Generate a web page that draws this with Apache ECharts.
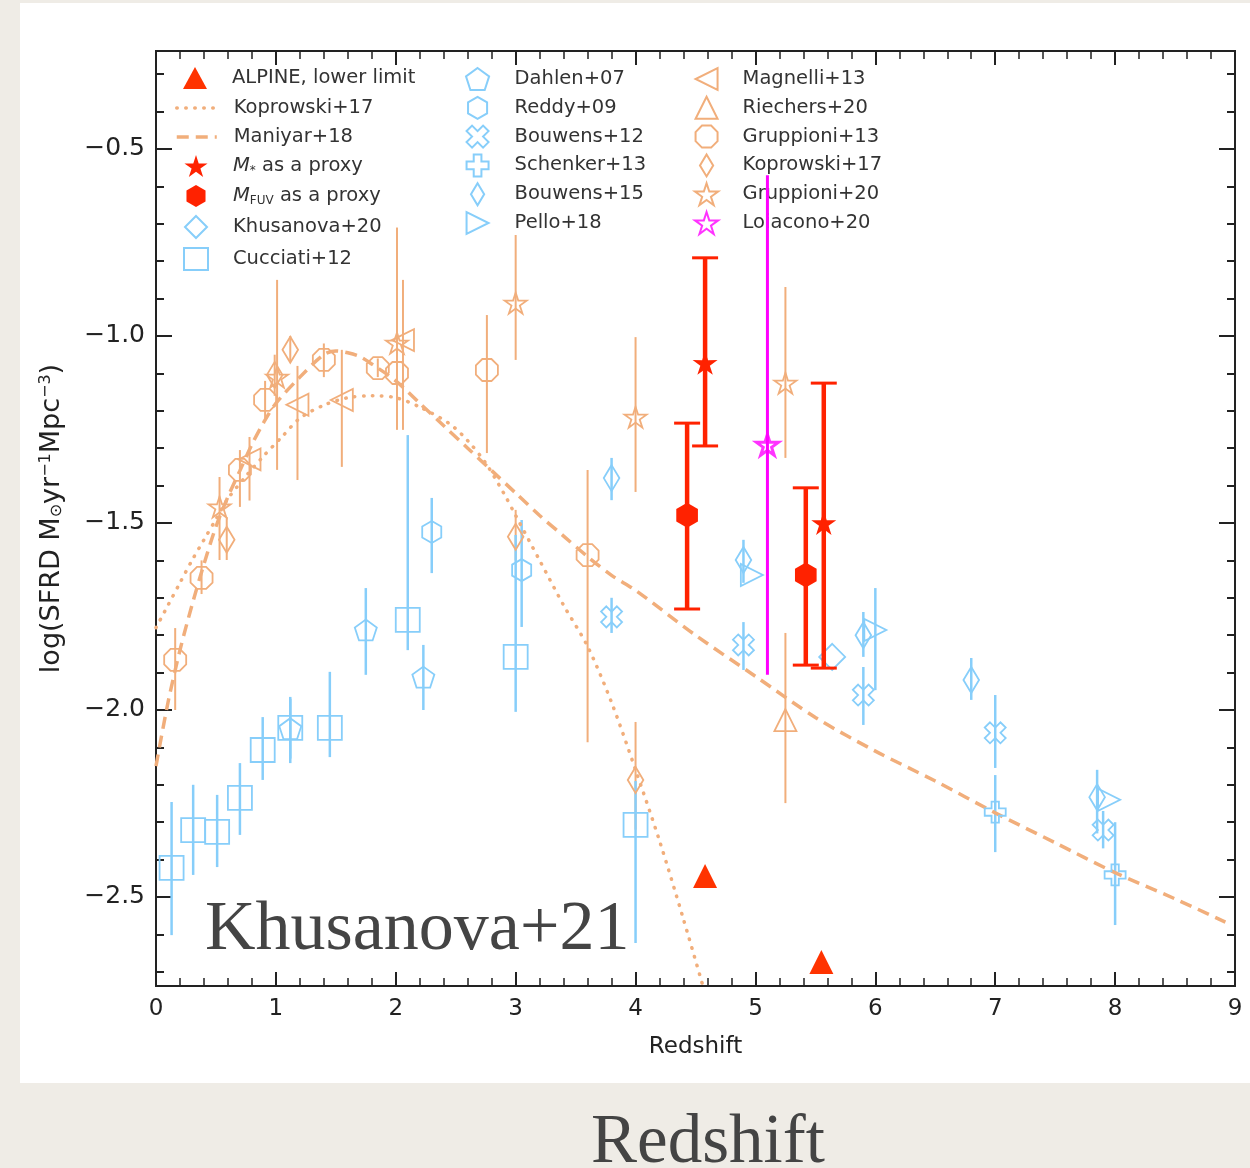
<!DOCTYPE html>
<html><head><meta charset="utf-8">
<script src="https://cdn.jsdelivr.net/npm/echarts@6.0.0/dist/echarts.min.js"></script>
<style>html,body{margin:0;padding:0;background:#efece6;} #c{width:1250px;height:1168px;}</style>
</head><body><div id="c"></div>
<script>
// ---------------- data ----------------
const xTicks = [0,1,2,3,4,5,6,7,8,9];
const yTicks = [-2.5,-2.0,-1.5,-1.0,-0.5];
const yMinor = [-2.7,-2.6,-2.5,-2.4,-2.3,-2.2,-2.1,-2.0,-1.9,-1.8,-1.7,-1.6,-1.5,-1.4,-1.3,-1.2,-1.1,-1.0,-0.9,-0.8,-0.7,-0.6,-0.5,-0.4,-0.3];

// Koprowski+17 (dotted curve)
const kopCurveZ = [0,0.1,0.2,0.3,0.4,0.5,0.6,0.75,0.9,1.05,1.2,1.4,1.6,1.8,2.0,2.2,2.45,2.6,2.75,2.9,3.0,3.2,3.4,3.6,3.8,4.0,4.2,4.4,4.6];
const kopCurveY = [-1.78,-1.72,-1.66,-1.60,-1.545,-1.49,-1.435,-1.375,-1.32,-1.27,-1.22,-1.185,-1.165,-1.16,-1.165,-1.19,-1.235,-1.28,-1.34,-1.42,-1.48,-1.60,-1.72,-1.83,-1.98,-2.16,-2.35,-2.56,-2.78];
// Maniyar+18 (dashed curve)
const manCurveZ = [0,0.1,0.2,0.3,0.4,0.5,0.6,0.7,0.8,0.9,1.0,1.2,1.4,1.5,1.6,1.7,1.8,2.0,2.2,2.4,2.6,2.8,3.0,3.2,3.4,3.6,3.8,4.0,4.5,5.0,5.5,6.0,6.5,7.0,7.5,8.0,8.5,8.92];
const manCurveY = [-2.15,-1.98,-1.84,-1.72,-1.61,-1.51,-1.43,-1.36,-1.29,-1.23,-1.18,-1.11,-1.05,-1.04,-1.045,-1.055,-1.075,-1.12,-1.18,-1.24,-1.30,-1.36,-1.42,-1.48,-1.535,-1.59,-1.64,-1.68,-1.80,-1.91,-2.02,-2.11,-2.19,-2.275,-2.355,-2.435,-2.505,-2.567];

// ALPINE (this work)
const alpLimZ = [4.58,5.55];   const alpLimY = [-2.444,-2.674];
const mstarZ = [4.58,5.57];    const mstarY = [-1.072,-1.50];  const mstarHi = [-0.791,-1.126]; const mstarLo = [-1.294,-1.888];
const mfuvZ = [4.43,5.42];     const mfuvY = [-1.479,-1.639];  const mfuvHi = [-1.233,-1.406];  const mfuvLo = [-1.730,-1.880];
const loiZ = [5.10];           const loiY = [-1.291];          const loiHi = [-0.57];           const loiLo = [-1.906];

// blue (UV) datasets
const khuZ = [5.64]; const khuY = [-1.858];
const cucZ = [0.13,0.31,0.51,0.70,0.89,1.12,1.45,2.10,3.00,4.00];
const cucY = [-2.422,-2.321,-2.326,-2.235,-2.107,-2.048,-2.048,-1.759,-1.858,-2.307];
const cucHi = [-2.246,-2.200,-2.227,-2.142,-2.019,-1.965,-1.898,-1.265,-1.532,-2.190];
const cucLo = [-2.602,-2.441,-2.420,-2.334,-2.187,-2.142,-2.126,-1.840,-2.005,-2.623];
const dahZ = [1.12,1.75,2.23]; const dahY = [-2.050,-1.786,-1.912]; const dahHi = [-1.970,-1.674,-1.826]; const dahLo = [-2.130,-1.906,-2.000];
const redZ = [2.30,3.05]; const redY = [-1.524,-1.626]; const redHi = [-1.433,-1.492]; const redLo = [-1.634,-1.778];
const bo12Z = [3.80,4.90,5.90,7.00,7.90]; const bo12Y = [-1.751,-1.826,-1.960,-2.061,-2.321];
const bo12Hi = [-1.700,-1.765,-1.885,-1.960,-2.270]; const bo12Lo = [-1.794,-1.893,-2.040,-2.155,-2.370];
const schZ = [7.00,8.00]; const schY = [-2.273,-2.441]; const schHi = [-2.174,-2.300]; const schLo = [-2.380,-2.575];
const bo15Z = [3.80,4.90,5.90,6.80,7.85]; const bo15Y = [-1.380,-1.599,-1.800,-1.920,-2.233];
const bo15Hi = [-1.326,-1.545,-1.738,-1.861,-2.160]; const bo15Lo = [-1.439,-1.660,-1.858,-1.973,-2.330];
const pelZ = [4.97,6.00,7.95]; const pelY = [-1.639,-1.786,-2.240]; const pelHi = [-1.639,-1.674,-2.240]; const pelLo = [-1.639,-1.947,-2.240];

// orange (IR) datasets
const magZ = [0.78,1.18,1.55,2.06]; const magY = [-1.33,-1.184,-1.171,-1.011]; const magHi = [-1.27,-1.08,-1.037,-0.85]; const magLo = [-1.44,-1.385,-1.35,-1.251];
const riZ = [5.25]; const riY = [-2.027]; const riHi = [-1.794]; const riLo = [-2.249];
const g13Z = [0.16,0.38,0.70,0.91,1.40,1.85,2.01,2.76,3.60];
const g13Y = [-1.866,-1.647,-1.358,-1.171,-1.064,-1.086,-1.099,-1.091,-1.586];
const g13Hi = [-1.781,-1.60,-1.305,-1.12,-1.02,-1.06,-1.07,-0.944,-1.358];
const g13Lo = [-2.000,-1.69,-1.457,-1.22,-1.11,-1.11,-1.13,-1.313,-2.086];
const k17Z = [0.59,0.99,1.12,3.00,4.00]; const k17Y = [-1.545,-1.104,-1.037,-1.537,-2.187];
const k17Hi = [-1.484,-1.05,-1.00,-1.465,-2.032]; const k17Lo = [-1.599,-1.16,-1.07,-1.60,-2.32];
const g20Z = [0.53,1.01,2.01,3.00,4.00,5.25]; const g20Y = [-1.457,-1.11,-1.019,-0.912,-1.217,-1.126];
const g20Hi = [-1.377,-0.85,-0.71,-0.73,-1.003,-0.869]; const g20Lo = [-1.599,-1.358,-1.251,-1.064,-1.417,-1.326];

const LABELS = {
  alp:'ALPINE, lower limit', kopC:'Koprowski+17', man:'Maniyar+18',
  mstar:'{it|M}{sb|*} as a proxy', mfuv:'{it|M}{sb|FUV} as a proxy',
  khu:'Khusanova+20', cuc:'Cucciati+12', dah:'Dahlen+07', red:'Reddy+09',
  bo12:'Bouwens+12', sch:'Schenker+13', bo15:'Bouwens+15', pel:'Pello+18',
  mag:'Magnelli+13', ri:'Riechers+20', g13:'Gruppioni+13', k17:'Koprowski+17',
  g20:'Gruppioni+20', loi:'Loiacono+20'
};

// ---------------- styling ----------------
const ORANGE = '#f1ae7b', BLUE = '#87cefa', RED = '#ff2200', MAG = '#ff00ff';
const P = {
  pent:'path://M0,-1 L0.951,-0.309 L0.588,0.809 L-0.588,0.809 L-0.951,-0.309 Z',
  hex:'path://M0,-1 L0.866,-0.5 L0.866,0.5 L0,1 L-0.866,0.5 L-0.866,-0.5 Z',
  oct:'path://M-0.383,-0.924 L0.383,-0.924 L0.924,-0.383 L0.924,0.383 L0.383,0.924 L-0.383,0.924 L-0.924,0.383 L-0.924,-0.383 Z',
  star:'path://M0,-1 L0.2234,-0.3074 L0.951,-0.309 L0.3614,0.1174 L0.588,0.809 L0,0.38 L-0.588,0.809 L-0.3614,0.1174 L-0.951,-0.309 L-0.2234,-0.3074 Z',
  xm:'path://M-0.5,-1 L0,-0.5 L0.5,-1 L1,-0.5 L0.5,0 L1,0.5 L0.5,1 L0,0.5 L-0.5,1 L-1,0.5 L-0.5,0 L-1,-0.5 Z',
  plus:'path://M-0.35,-1 L0.35,-1 L0.35,-0.35 L1,-0.35 L1,0.35 L0.35,0.35 L0.35,1 L-0.35,1 L-0.35,0.35 L-1,0.35 L-1,-0.35 L-0.35,-0.35 Z',
  thin:'path://M0,-1 L0.6,0 L0,1 L-0.6,0 Z',
  dia:'path://M0,-1 L1,0 L0,1 L-1,0 Z',
  tl:'path://M1,-1 L1,1 L-1,0 Z',
  tr:'path://M-1,-1 L-1,1 L1,0 Z',
  tu:'path://M0,-1 L1,1 L-1,1 Z'
};

const pairs = (zs, ys) => zs.map((z,i)=>[z, ys[i]]);
const bars = (zs, lo, hi) => zs.map((z,i)=>[z, lo[i], hi[i]]).filter(d=>d[1]!==d[2]);

function errSeries(data, color, lw, cap, zl){
  return {type:'custom', data, z:zl, silent:true, clip:true, encode:{x:0, y:[1,2]},
    renderItem(params, api){
      const x = api.value(0), lo = api.value(1), hi = api.value(2);
      const a = api.coord([x,lo]), b = api.coord([x,hi]);
      const ch = [{type:'line', shape:{x1:a[0],y1:a[1],x2:b[0],y2:b[1]}, style:{stroke:color, lineWidth:lw}}];
      if (cap) {
        ch.push({type:'line', shape:{x1:a[0]-cap,y1:a[1],x2:a[0]+cap,y2:a[1]}, style:{stroke:color, lineWidth:3}});
        ch.push({type:'line', shape:{x1:b[0]-cap,y1:b[1],x2:b[0]+cap,y2:b[1]}, style:{stroke:color, lineWidth:3}});
      }
      return {type:'group', children:ch};
    }};
}
function hollow(name, data, symbol, size, color, extra){
  return Object.assign({type:'scatter', name, data, symbol, symbolSize:size, symbolKeepAspect:true, z:4, silent:true,
    itemStyle:{color:'rgba(255,255,255,0)', borderColor:color, borderWidth:1.8, opacity:1}}, extra||{});
}
function filled(name, data, symbol, size, color, extra){
  return Object.assign({type:'scatter', name, data, symbol, symbolSize:size, symbolKeepAspect:true, z:12, silent:true,
    itemStyle:{color:color, borderWidth:0, opacity:1}}, extra||{});
}

const series = [
  // curves
  {type:'line', name:'kopC', color:ORANGE, data:pairs(kopCurveZ,kopCurveY), symbol:'none', smooth:0.3, z:3, silent:true, clip:true,
   lineStyle:{color:ORANGE, width:3.5, type:[0.5,8.5], cap:'round'}},
  {type:'line', name:'man', color:ORANGE, data:pairs(manCurveZ,manCurveY), symbol:'none', smooth:0.3, z:3, silent:true, clip:true,
   lineStyle:{color:ORANGE, width:3.5, type:[12,7]}},
  // error bars
  errSeries(bars(g13Z,g13Lo,g13Hi), ORANGE, 2, 0, 2),
  errSeries(bars(k17Z,k17Lo,k17Hi), ORANGE, 2, 0, 2),
  errSeries(bars(g20Z,g20Lo,g20Hi), ORANGE, 2, 0, 2),
  errSeries(bars(magZ,magLo,magHi), ORANGE, 2, 0, 2),
  errSeries(bars(riZ,riLo,riHi), ORANGE, 2, 0, 2),
  errSeries(bars(cucZ,cucLo,cucHi), BLUE, 2.5, 0, 2),
  errSeries(bars(dahZ,dahLo,dahHi), BLUE, 2.5, 0, 2),
  errSeries(bars(redZ,redLo,redHi), BLUE, 2.5, 0, 2),
  errSeries(bars(bo12Z,bo12Lo,bo12Hi), BLUE, 2.5, 0, 2),
  errSeries(bars(schZ,schLo,schHi), BLUE, 2.5, 0, 2),
  errSeries(bars(bo15Z,bo15Lo,bo15Hi), BLUE, 2.5, 0, 2),
  errSeries(bars(pelZ,pelLo,pelHi), BLUE, 2.5, 0, 2),
  errSeries(bars(loiZ,loiLo,loiHi), MAG, 3, 0, 9),
  errSeries(bars(mstarZ,mstarLo,mstarHi), RED, 4.5, 13, 10),
  errSeries(bars(mfuvZ,mfuvLo,mfuvHi), RED, 4.5, 13, 10),
  // markers
  hollow('khu', pairs(khuZ,khuY), P.dia, 26, BLUE),
  hollow('cuc', pairs(cucZ,cucY), 'rect', 24, BLUE),
  hollow('dah', pairs(dahZ,dahY), P.pent, 22, BLUE),
  hollow('red', pairs(redZ,redY), P.hex, 22, BLUE),
  hollow('bo12', pairs(bo12Z,bo12Y), P.xm, 21, BLUE),
  hollow('sch', pairs(schZ,schY), P.plus, 21, BLUE),
  hollow('bo15', pairs(bo15Z,bo15Y), P.thin, 26, BLUE),
  hollow('pel', pairs(pelZ,pelY), P.tr, 22, BLUE),
  hollow('mag', pairs(magZ,magY), P.tl, 22, ORANGE),
  hollow('ri', pairs(riZ,riY), P.tu, 22, ORANGE),
  hollow('g13', pairs(g13Z,g13Y), P.oct, 22, ORANGE),
  hollow('k17', pairs(k17Z,k17Y), P.thin, 26, ORANGE),
  hollow('g20', pairs(g20Z,g20Y), P.star, 22, ORANGE),
  hollow('loi', pairs(loiZ,loiY), P.star, 22, MAG, {z:11, itemStyle:{color:'rgba(255,255,255,0)', borderColor:MAG, borderWidth:3}}),
  filled('alp', pairs(alpLimZ,alpLimY), 'triangle', 24, '#ff3300'),
  filled('mstar', pairs(mstarZ,mstarY), P.star, 25, RED),
  filled('mfuv', pairs(mfuvZ,mfuvY), P.hex, 25, RED)
];

const FONT = 'DejaVu Sans';
const LFS = 19.5;
const legendText = {fontFamily:FONT, fontSize:LFS, color:'#333', lineHeight:22,
  rich:{it:{fontFamily:FONT, fontSize:LFS, fontStyle:'italic', color:'#333', lineHeight:22},
        sb:{fontFamily:FONT, fontSize:12, color:'#333', verticalAlign:'bottom', lineHeight:22}}};
function leg(data, left, top, w, pad, gap){
  return {data, left, top, orient:'vertical', padding:0, itemWidth:w, itemHeight:22, itemGap:gap,
    selectedMode:false, symbolKeepAspect:true, formatter:n=>LABELS[n]||n,
    itemStyle:{borderWidth:2}, lineStyle:{width:3.5},
    textStyle:Object.assign({}, legendText, {padding:[0,0,0,pad]})};
}
const noSym = n => ({name:n, itemStyle:{color:'rgba(0,0,0,0)', borderColor:'rgba(0,0,0,0)', borderWidth:0}});

const fmtY = v => (v<0?'\u2212':'') + Math.abs(v).toFixed(1);
const tickStyle = {lineStyle:{color:'#222', width:2}};
const axisLine = {show:true, lineStyle:{color:'#222', width:2}};
const yCommon = {type:'value', min:-2.738, max:-0.238, splitLine:{show:false}, axisLine};

const option = {
  backgroundColor:'#efece6',
  animation:false,
  grid:{left:156, top:51, width:1079, height:935, containLabel:false},
  xAxis:[
    {type:'value', position:'bottom', min:0, max:9, interval:1, splitLine:{show:false}, axisLine,
     axisTick:Object.assign({inside:true, length:14}, tickStyle),
     minorTick:{show:true, splitNumber:5, length:8, lineStyle:{color:'#222', width:1.5}},
     axisLabel:{color:'#222', fontFamily:FONT, fontSize:23, margin:12, formatter:v=>String(v)},
     name:'Redshift', nameLocation:'middle', nameGap:50,
     nameTextStyle:{fontFamily:FONT, fontSize:23, color:'#222'}},
    {type:'value', position:'top', min:0, max:9, interval:1, splitLine:{show:false}, axisLine,
     axisTick:Object.assign({inside:true, length:14}, tickStyle),
     minorTick:{show:true, splitNumber:5, length:8, lineStyle:{color:'#222', width:1.5}},
     axisLabel:{show:false}}
  ],
  yAxis:[
    Object.assign({}, yCommon, {position:'left',
     axisTick:Object.assign({inside:true, length:16, customValues:yTicks}, tickStyle),
     axisLabel:{customValues:yTicks, formatter:fmtY, color:'#222', fontFamily:FONT, fontSize:25, margin:11},
     name:'log(SFRD M{sb|\u2299}yr{sp|\u22121}Mpc{sp|\u22123})', nameLocation:'middle', nameRotate:90, nameGap:91,
     nameTextStyle:{fontFamily:FONT, fontSize:27, color:'#222',
       rich:{sb:{fontFamily:FONT, fontSize:16, color:'#222', verticalAlign:'bottom'},
             sp:{fontFamily:FONT, fontSize:16, color:'#222', verticalAlign:'top'}}}}),
    Object.assign({}, yCommon, {position:'left',
     axisTick:Object.assign({inside:true, length:8, customValues:yMinor}, tickStyle),
     axisLabel:{show:false}}),
    Object.assign({}, yCommon, {position:'right',
     axisTick:Object.assign({inside:true, length:16, customValues:yTicks}, tickStyle),
     axisLabel:{show:false}}),
    Object.assign({}, yCommon, {position:'right',
     axisTick:Object.assign({inside:true, length:8, customValues:yMinor}, tickStyle),
     axisLabel:{show:false}})
  ],
  legend:[
    leg(['alp'], 183, 67, 24, 20, 7),
    leg([noSym('kopC'), noSym('man')], 175, 97, 40, 12, 7),
    leg(['mstar','mfuv','khu','cuc'], 183, 155, 24, 20, 8),
    leg(['dah','red','bo12','sch','bo15','pel'], 465, 67, 24, 20, 4.8),
    leg(['mag','ri','g13','k17','g20','loi'], 694, 67, 24, 19, 4.8)
  ],
  graphic:[
    {type:'rect', z:-10, silent:true, shape:{x:20, y:3, width:1240, height:1080}, style:{fill:'#ffffff'}},
    {type:'text', z:100, silent:true, style:{text:'Khusanova+21', x:205, y:931, textVerticalAlign:'middle',
      font:'70px "Liberation Serif", serif', fill:'#444'}},
    {type:'text', z:100, silent:true, style:{text:'Redshift', x:708, y:1144, textAlign:'center', textVerticalAlign:'middle',
      font:'69px "Liberation Serif", serif', fill:'#444'}}
  ],
  series
};

const chart = echarts.init(document.getElementById('c'), null, {renderer:'canvas'});
chart.setOption(option);
</script></body></html>
